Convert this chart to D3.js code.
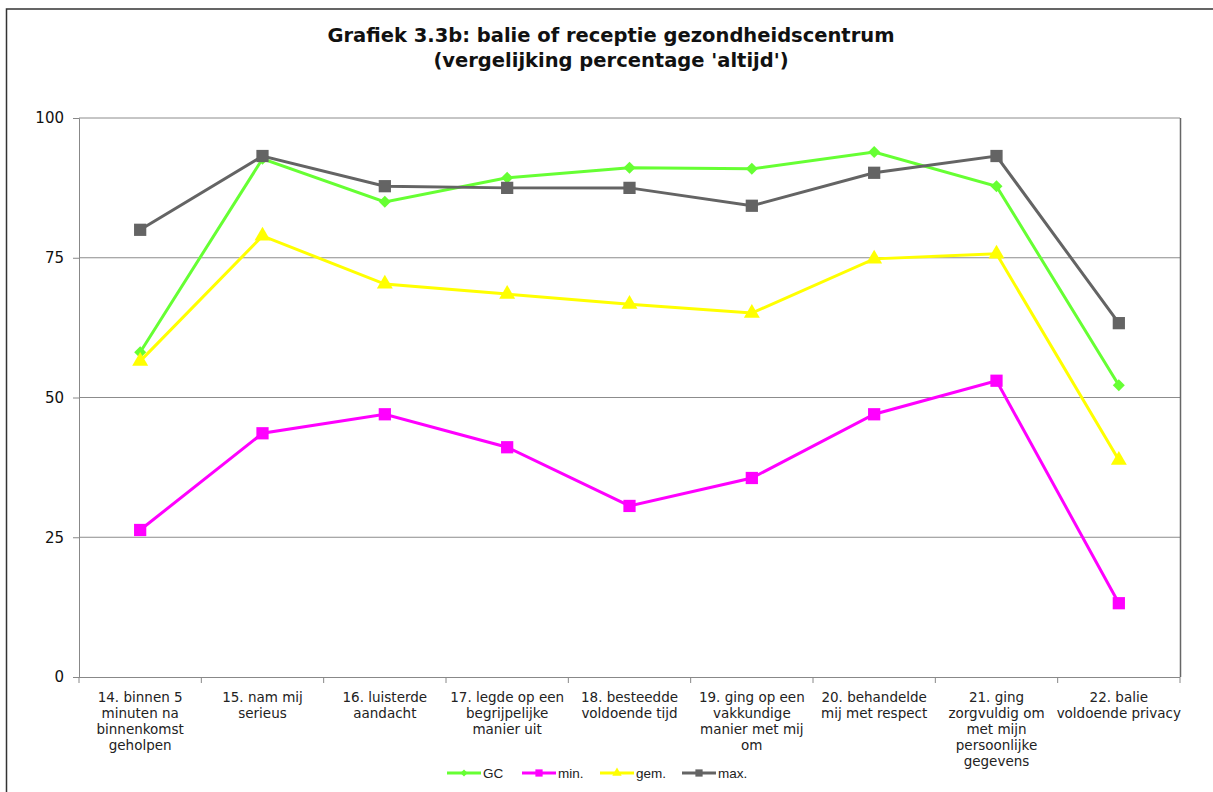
<!DOCTYPE html>
<html>
<head>
<meta charset="utf-8">
<script src="https://cdn.jsdelivr.net/npm/d3@7"></script>
<style>
	body { margin: 0; background: #fff; }
	svg { display: block; }
</style>
</head>
<body>
<script>
const width = 1213
const height = 792
const margin = { top: 118, right: 33, bottom: 115, left: 79 }
const innerWidth = width - margin.left - margin.right
const innerHeight = height - margin.top - margin.bottom

const categories = [
	['14. binnen 5', 'minuten na', 'binnenkomst', 'geholpen'],
	['15. nam mij', 'serieus'],
	['16. luisterde', 'aandacht'],
	['17. legde op een', 'begrijpelijke', 'manier uit'],
	['18. besteedde', 'voldoende tijd'],
	['19. ging op een', 'vakkundige', 'manier met mij', 'om'],
	['20. behandelde', 'mij met respect'],
	['21. ging', 'zorgvuldig om', 'met mijn', 'persoonlijke', 'gegevens'],
	['22. balie', 'voldoende privacy']
]

const gcValues = [58.1, 92.7, 85.0, 89.3, 91.1, 90.9, 93.9, 87.8, 52.2]
const minValues = [26.3, 43.6, 47.0, 41.1, 30.6, 35.6, 47.0, 53.0, 13.2]
const gemValues = [56.5, 78.9, 70.3, 68.5, 66.7, 65.1, 74.8, 75.7, 38.8]
const maxValues = [80.0, 93.2, 87.8, 87.5, 87.5, 84.3, 90.2, 93.2, 63.3]
const yTicks = [0, 25, 50, 75, 100]

const series = [
	{ name: 'GC', values: gcValues, color: '#66ff33', symbol: d3.symbolSquare, size: 72, rotate: 45 },
	{ name: 'min.', values: minValues, color: '#ff00ff', symbol: d3.symbolSquare, size: 150, rotate: 0 },
	{ name: 'gem.', values: gemValues, color: '#ffff00', symbol: d3.symbolTriangle, size: 110, rotate: 0 },
	{ name: 'max.', values: maxValues, color: '#646464', symbol: d3.symbolSquare, size: 150, rotate: 0 }
]

const svg = d3.select('body')
	.append('svg')
	.attr('width', width)
	.attr('height', height)
	.style('font-family', 'Tahoma, "DejaVu Sans", sans-serif')

// chart frame
svg.append('path')
	.attr('d', `M6.5,${height}V9H${width}`)
	.attr('fill', 'none')
	.attr('stroke', '#333')
	.attr('stroke-width', 1.5)

const title = svg.append('text')
	.attr('text-anchor', 'middle')
	.attr('font-weight', 'bold')
	.attr('font-size', 19.5)
	.attr('fill', '#111')
title.append('tspan').attr('x', 611).attr('y', 42).text('Grafiek 3.3b: balie of receptie gezondheidscentrum')
title.append('tspan').attr('x', 611).attr('y', 67).text("(vergelijking percentage 'altijd')")

const g = svg.append('g')
	.attr('transform', `translate(${margin.left},${margin.top})`)

const xScale = d3.scaleBand()
	.domain(d3.range(categories.length))
	.range([0, innerWidth])

const yScale = d3.scaleLinear()
	.domain([0, 100])
	.range([innerHeight, 0])

// gridlines
g.selectAll('.grid')
	.data(yTicks.slice(1))
	.enter()
	.append('line')
	.attr('x1', 0)
	.attr('x2', innerWidth)
	.attr('y1', d => yScale(d))
	.attr('y2', d => yScale(d))
	.attr('stroke', '#8c8c8c')
	.attr('stroke-width', 1)

// right border of plot area
g.append('line')
	.attr('x1', innerWidth + 0.5)
	.attr('x2', innerWidth + 0.5)
	.attr('y1', 0)
	.attr('y2', innerHeight)
	.attr('stroke', '#666')
	.attr('stroke-width', 1.5)

const yAxis = d3.axisLeft(yScale)
	.tickValues(yTicks)
	.tickSize(6)
	.tickPadding(9)

const yAxisG = g.append('g').call(yAxis)
yAxisG.select('.domain').attr('stroke', '#888')
yAxisG.selectAll('.tick line').attr('stroke', '#888')
yAxisG.selectAll('.tick text')
	.attr('font-size', 15)
	.attr('font-family', 'Tahoma, "DejaVu Sans", sans-serif')
	.attr('fill', '#111')

// x axis with ticks at band boundaries
g.append('line')
	.attr('x1', 0)
	.attr('x2', innerWidth)
	.attr('y1', innerHeight + 0.5)
	.attr('y2', innerHeight + 0.5)
	.attr('stroke', '#888')
g.selectAll('.xtick')
	.data(d3.range(categories.length + 1))
	.enter()
	.append('line')
	.attr('x1', i => i * xScale.step())
	.attr('x2', i => i * xScale.step())
	.attr('y1', innerHeight)
	.attr('y2', innerHeight + 6)
	.attr('stroke', '#888')

const xLabels = g.selectAll('.xlabel')
	.data(categories)
	.enter()
	.append('text')
	.attr('text-anchor', 'middle')
	.attr('font-size', 13.5)
	.attr('fill', '#222')
xLabels.each(function (lines, i) {
	const t = d3.select(this)
	lines.forEach((line, j) => {
		t.append('tspan')
			.attr('x', xScale(i) + xScale.bandwidth() / 2)
			.attr('y', innerHeight + 25 + j * 16)
			.text(line)
	})
})

const lineMaker = d3.line()
	.x((d, i) => xScale(i) + xScale.bandwidth() / 2)
	.y(d => yScale(d))

series.forEach(s => {
	g.append('path')
		.attr('d', lineMaker(s.values))
		.attr('fill', 'none')
		.attr('stroke', s.color)
		.attr('stroke-width', 3)

	g.selectAll(null)
		.data(s.values)
		.enter()
		.append('path')
		.attr('d', d3.symbol().type(s.symbol).size(s.size))
		.attr('transform', (d, i) => `translate(${xScale(i) + xScale.bandwidth() / 2},${yScale(d)}) rotate(${s.rotate})`)
		.attr('fill', s.color)
})

// Legend
const legendX = [447, 522, 600, 682]
const legend = svg.selectAll('.legend')
	.data(series)
	.enter()
	.append('g')
	.attr('transform', (d, i) => `translate(${legendX[i]},773)`)

legend.append('line')
	.attr('x1', 0)
	.attr('x2', 34)
	.attr('stroke', d => d.color)
	.attr('stroke-width', 3)

legend.append('path')
	.attr('d', d => d3.symbol().type(d.symbol).size(d.size * 0.35)())
	.attr('transform', d => `translate(17,0) rotate(${d.rotate})`)
	.attr('fill', d => d.color)

legend.append('text')
	.attr('x', 36)
	.attr('y', 5)
	.attr('font-size', 13.5)
	.attr('font-family', '"Liberation Sans", Arial, sans-serif')
	.attr('fill', '#222')
	.text(d => d.name)
</script>
</body>
</html>
